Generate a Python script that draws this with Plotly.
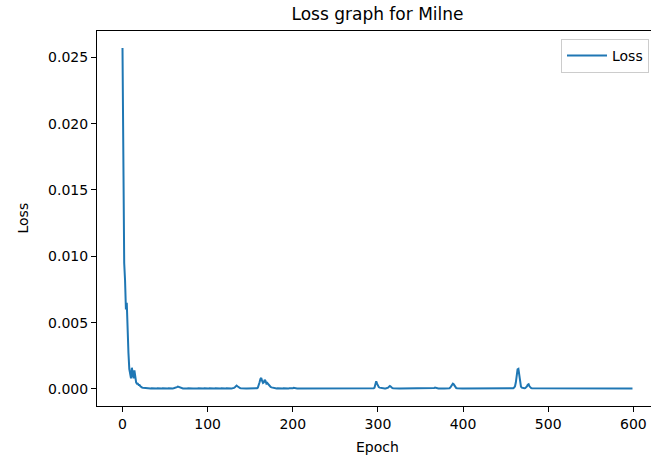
import plotly.graph_objects as go

title_text = "Loss graph for Milne"
x_label = "Epoch"
y_label = "Loss"
series_name = "Loss"

loss = [
    0.0257, 0.0120, 0.0095, 0.0082, 0.0060, 0.0065, 0.0032, 0.0027, 0.0015, 0.0010, 0.0008, 0.0016, 0.0011, 0.0008, 0.0014, 0.0007, 0.0005, 0.0004, 0.0004, 0.0003,
    0.0003, 0.0002, 0.00012, 0.0001, 0.00009, 0.00008, 0.00007, 0.00006, 0.00006, 0.00005, 0.00005, 0.00004, 0.00004, 0.00004, 0.00005, 0.00004, 0.00004, 0.00003, 0.00004, 0.00004,
    0.00004, 0.00005, 0.00004, 0.00004, 0.00003, 0.00004, 0.00004, 0.00005, 0.00004, 0.00004, 0.00004, 0.00003, 0.00004, 0.00004, 0.00005, 0.00004, 0.00004, 0.00004, 0.00005, 0.00004,
    0.00005, 0.00006, 0.00007, 0.0001, 0.00014, 0.00018, 0.00015, 0.0001, 0.00007, 0.00005, 0.00004, 0.00004, 0.00004, 0.00003, 0.00004, 0.00004, 0.00004, 0.00005, 0.00004, 0.00004,
    0.00004, 0.00004, 0.00005, 0.00004, 0.00004, 0.00003, 0.00004, 0.00004, 0.00004, 0.00005, 0.00004, 0.00004, 0.00004, 0.00003, 0.00004, 0.00004, 0.00005, 0.00004, 0.00004, 0.00004,
    0.00004, 0.00004, 0.00005, 0.00004, 0.00006, 0.00003, 0.00004, 0.00004, 0.00004, 0.00005, 0.00004, 0.00004, 0.00004, 0.00003, 0.00004, 0.00004, 0.00005, 0.00004, 0.00004, 0.00004,
    0.00004, 0.00004, 0.00005, 0.00004, 0.00004, 0.00003, 0.00004, 0.00004, 0.00004, 0.00005, 0.00004, 0.00008, 0.00013, 0.0002, 0.00025, 0.0002, 0.00013, 0.00009, 0.00006, 0.00005,
    0.00004, 0.00004, 0.00005, 0.00004, 0.00004, 0.00003, 0.00004, 0.00004, 0.00004, 0.00005, 0.00004, 0.00004, 0.00004, 0.00003, 0.00004, 0.00004, 0.00005, 0.00005, 0.00006, 0.0001,
    0.00025, 0.0005, 0.00075, 0.00083, 0.0006, 0.00045, 0.0005, 0.00068, 0.0006, 0.0004, 0.00045, 0.00035, 0.00025, 0.0002, 0.00015, 0.00012, 0.0001, 0.00008, 0.00007, 0.00006,
    0.00005, 0.00004, 0.00005, 0.00004, 0.00004, 0.00003, 0.00004, 0.00004, 0.00004, 0.00005, 0.00004, 0.00004, 0.00004, 0.00003, 0.00004, 0.00004, 0.00005, 0.00004, 0.00004, 0.00004,
    0.00005, 0.00008, 0.00006, 0.00004, 0.00004, 0.00003, 0.00004, 0.00004, 0.00004, 0.00005, 0.00004, 0.00004, 0.00004, 0.00003, 0.00004, 0.00004, 0.00005, 0.00004, 0.00004, 0.00004,
    0.00004, 0.00004, 0.00005, 0.00004, 0.00004, 0.00003, 0.00004, 0.00004, 0.00004, 0.00005, 0.00004, 0.00004, 0.00004, 0.00003, 0.00004, 0.00004, 0.00005, 0.00004, 0.00004, 0.00004,
    0.00004, 0.00004, 0.00005, 0.00004, 0.00004, 0.00003, 0.00004, 0.00004, 0.00004, 0.00005, 0.00004, 0.00004, 0.00004, 0.00003, 0.00004, 0.00004, 0.00005, 0.00004, 0.00004, 0.00004,
    0.00004, 0.00004, 0.00006, 0.00008, 0.00006, 0.00003, 0.00004, 0.00004, 0.00004, 0.00005, 0.00004, 0.00004, 0.00004, 0.00003, 0.00004, 0.00004, 0.00005, 0.00004, 0.00004, 0.00004,
    0.00004, 0.00004, 0.00005, 0.00004, 0.00004, 0.00003, 0.00004, 0.00004, 0.00004, 0.00005, 0.00004, 0.00004, 0.00004, 0.00003, 0.00004, 0.00005, 0.0001, 0.0003, 0.00058, 0.0004,
    0.00022, 0.00014, 0.0001, 0.00008, 0.00006, 0.00005, 0.00005, 0.00004, 0.00004, 0.00004, 0.00005, 0.00006, 0.0001, 0.00017, 0.00022, 0.00018, 0.0001, 0.00006, 0.00005, 0.00004,
    0.00004, 0.00004, 0.00005, 0.00004, 0.00004, 0.00003, 0.00004, 0.00004, 0.00004, 0.00005, 0.00004, 0.00004, 0.00004, 0.00003, 0.00004, 0.00004, 0.00005, 0.00004, 0.00004, 0.00004,
    0.00004, 0.00004, 0.00005, 0.00004, 0.00004, 0.00003, 0.00004, 0.00004, 0.00004, 0.00005, 0.00004, 0.00004, 0.00004, 0.00003, 0.00004, 0.00004, 0.00005, 0.00004, 0.00004, 0.00004,
    0.00004, 0.00004, 0.00005, 0.00004, 0.00004, 0.00003, 0.00007, 0.0001, 0.00007, 0.00005, 0.00004, 0.00004, 0.00004, 0.00003, 0.00004, 0.00004, 0.00005, 0.00004, 0.00004, 0.00004,
    0.00004, 0.00004, 0.00005, 0.00004, 0.00006, 0.0001, 0.0002, 0.00033, 0.0004, 0.00035, 0.00022, 0.00012, 0.00007, 0.00005, 0.00004, 0.00004, 0.00005, 0.00004, 0.00004, 0.00004,
    0.00004, 0.00004, 0.00005, 0.00004, 0.00004, 0.00003, 0.00004, 0.00004, 0.00004, 0.00005, 0.00004, 0.00004, 0.00004, 0.00003, 0.00004, 0.00004, 0.00005, 0.00004, 0.00004, 0.00004,
    0.00004, 0.00004, 0.00005, 0.00004, 0.00004, 0.00003, 0.00004, 0.00004, 0.00004, 0.00005, 0.00004, 0.00004, 0.00004, 0.00003, 0.00004, 0.00004, 0.00005, 0.00004, 0.00004, 0.00004,
    0.00004, 0.00004, 0.00005, 0.00004, 0.00004, 0.00003, 0.00004, 0.00004, 0.00004, 0.00005, 0.00004, 0.00004, 0.00004, 0.00003, 0.00004, 0.00004, 0.00005, 0.00004, 0.00005, 0.00006,
    0.0001, 0.0002, 0.0005, 0.0011, 0.00148, 0.00152, 0.001, 0.0004, 0.00018, 0.0001, 0.00007, 0.00005, 0.00005, 0.00006, 0.0001, 0.0002, 0.00032, 0.00036, 0.0002, 0.0001,
    0.00006, 0.00005, 0.00005, 0.00004, 0.00004, 0.00003, 0.00004, 0.00004, 0.00004, 0.00005, 0.00004, 0.00004, 0.00004, 0.00003, 0.00004, 0.00004, 0.00005, 0.00004, 0.00004, 0.00004,
    0.00004, 0.00004, 0.00005, 0.00004, 0.00004, 0.00003, 0.00004, 0.00004, 0.00004, 0.00005, 0.00004, 0.00004, 0.00006, 0.00008, 0.00006, 0.00004, 0.00005, 0.00004, 0.00004, 0.00004,
    0.00004, 0.00004, 0.00005, 0.00004, 0.00004, 0.00003, 0.00004, 0.00004, 0.00004, 0.00005, 0.00004, 0.00004, 0.00004, 0.00003, 0.00004, 0.00004, 0.00006, 0.00008, 0.00006, 0.00004,
    0.00004, 0.00004, 0.00005, 0.00004, 0.00004, 0.00003, 0.00004, 0.00004, 0.00004, 0.00005, 0.00004, 0.00004, 0.00004, 0.00003, 0.00004, 0.00004, 0.00005, 0.00004, 0.00004, 0.00004,
    0.00004, 0.00004, 0.00005, 0.00004, 0.00004, 0.00003, 0.00004, 0.00004, 0.00004, 0.00005, 0.00004, 0.00004, 0.00004, 0.00003, 0.00004, 0.00004, 0.00005, 0.00004, 0.00004, 0.00004,
    0.00004, 0.00004, 0.00005, 0.00004, 0.00004, 0.00003, 0.00004, 0.00004, 0.00004, 0.00005, 0.00004, 0.00004, 0.00004, 0.00003, 0.00004, 0.00004, 0.00005, 0.00004, 0.00004, 0.00004,
]
epochs = list(range(len(loss)))

FONT = "DejaVu Sans"

# axes box spans x = 97..658 px; the page window (651 px) crops its right edge
FIG_W, FIG_H = 658, 459
L, T, B = 97, 31, 53
PW = FIG_W - L
PH = FIG_H - T - B

fig = go.Figure()
fig.add_trace(go.Scatter(
    x=epochs, y=loss, mode="lines", name=series_name,
    line=dict(color="#1f77b4", width=2),
))

fig.update_layout(
    width=FIG_W, height=FIG_H,
    margin=dict(l=L, r=0, t=T, b=B, autoexpand=False),
    paper_bgcolor="white", plot_bgcolor="white",
    font=dict(family=FONT, size=14, color="black"),
    title=dict(text=title_text, x=0.5, xref="paper",
               y=1 - 14.5 / FIG_H, yref="container", xanchor="center",
               yanchor="middle",
               font=dict(family=FONT, size=17, color="black")),
    showlegend=True,
    legend=dict(x=(649 - L) / PW, y=1 - (39 - T) / PH, xanchor="right",
                yanchor="top", bgcolor="white", bordercolor="#cccccc",
                borderwidth=1, itemwidth=40,
                font=dict(family=FONT, size=14, color="black")),
    xaxis=dict(range=[-29.95, 628.95], tick0=0, dtick=100, showgrid=False,
               zeroline=False, showline=True, linecolor="black", linewidth=1,
               mirror=True, ticks="outside", ticklen=5, tickwidth=1,
               tickcolor="black", tickfont=dict(family=FONT, size=14),
               automargin=False),
    yaxis=dict(range=[-0.001285, 0.026985], tick0=0, dtick=0.005,
               tickformat=".3f", showgrid=False, zeroline=False,
               showline=True, linecolor="black", linewidth=1, mirror=False,
               ticks="outside", ticklen=5, tickwidth=1, tickcolor="black",
               tickfont=dict(family=FONT, size=14), automargin=False),
    annotations=[
        dict(text=x_label, xref="paper", yref="paper", x=0.5,
             y=-(447 - (FIG_H - B)) / PH, xanchor="center", yanchor="middle",
             showarrow=False, font=dict(family=FONT, size=14)),
        dict(text=y_label, xref="paper", yref="paper", x=-(L - 22) / PW,
             y=0.5, xanchor="center", yanchor="middle",
             textangle=-90, showarrow=False, font=dict(family=FONT, size=14)),
    ],
)

fig.write_html(
    "out.html", config={"displayModeBar": False, "staticPlot": True},
    post_script=("document.documentElement.style.margin='0';"
                 "document.body.style.margin='0';"
                 "document.body.style.overflow='hidden';"
                 "document.documentElement.style.overflow='hidden';"),
)
